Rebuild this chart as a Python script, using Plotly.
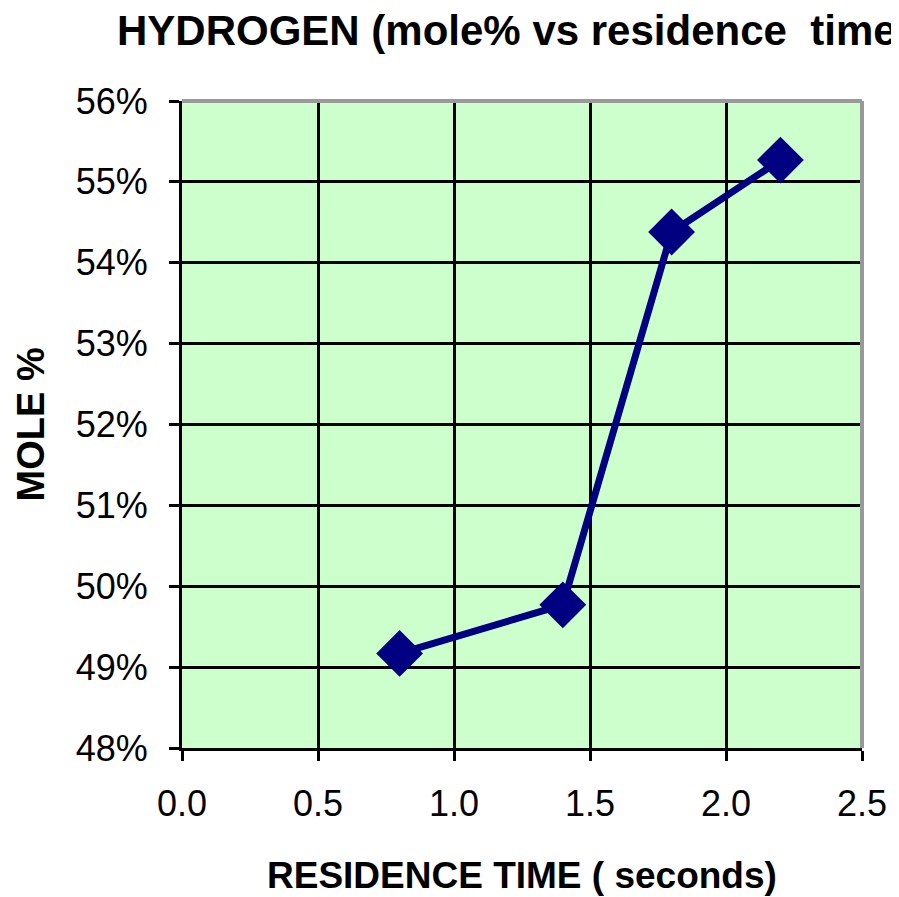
import plotly.graph_objects as go

residence_time = [0.8, 1.4, 1.8, 2.2]
mole_fraction = [0.4917, 0.4977, 0.5438, 0.5527]
x_ticks = [0.0, 0.5, 1.0, 1.5, 2.0, 2.5]
x_tick_labels = ["0.0", "0.5", "1.0", "1.5", "2.0", "2.5"]
y_ticks = [0.48, 0.49, 0.50, 0.51, 0.52, 0.53, 0.54, 0.55, 0.56]
y_tick_labels = ["48%", "49%", "50%", "51%", "52%", "53%", "54%", "55%", "56%"]

FONT = "Liberation Sans, Arial, sans-serif"
NAVY = "#000080"

# page body adds an 8px offset; figure is sized to fit the window
W, H = 891, 889

fig = go.Figure()
fig.add_trace(go.Scatter(
    x=residence_time, y=mole_fraction, mode="lines+markers",
    line=dict(color=NAVY, width=7),
    marker=dict(symbol="diamond", size=36, color=NAVY, line=dict(width=0)),
    showlegend=False, cliponaxis=False,
))

fig.update_layout(
    width=W, height=H,
    margin=dict(l=174, r=33, t=93, b=149),
    paper_bgcolor="white", plot_bgcolor="#CCFFCC",
    font=dict(family=FONT, color="black"),
    title=dict(text="<b>HYDROGEN\u00a0(mole% vs residence\u00a0\u00a0time)</b>",
               font=dict(family=FONT, size=42, color="black"),
               x=109/W, xanchor="left", xref="container",
               y=1-22/H, yanchor="middle", yref="container"),
    xaxis=dict(range=[0, 2.5], tickvals=x_ticks, ticktext=x_tick_labels,
               showgrid=True, gridcolor="black", gridwidth=3,
               showline=True, linecolor="black", linewidth=3,
               ticks="outside", ticklen=10, tickwidth=3, tickcolor="black",
               tickfont=dict(size=36, family=FONT), ticklabelstandoff=12,
               zeroline=False, fixedrange=True),
    yaxis=dict(range=[0.48, 0.56], tickvals=y_ticks, ticktext=y_tick_labels,
               showgrid=True, gridcolor="black", gridwidth=3,
               showline=True, linecolor="black", linewidth=3,
               ticks="outside", ticklen=10, tickwidth=3, tickcolor="black",
               tickfont=dict(size=36, family=FONT), ticklabelstandoff=14,
               zeroline=False, fixedrange=True),
    shapes=[
        dict(type="line", xref="paper", yref="paper", x0=0, x1=1, y0=1, y1=1,
             line=dict(color="#999999", width=4)),
        dict(type="line", xref="paper", yref="paper", x0=1, x1=1, y0=0, y1=1,
             line=dict(color="#999999", width=4)),
    ],
    annotations=[
        dict(text="<b>RESIDENCE TIME ( seconds)</b>", xref="paper", yref="paper",
             x=0.5, y=-127/647, xanchor="center", yanchor="middle",
             showarrow=False, font=dict(size=37, family=FONT)),
        dict(text="<b>MOLE %</b>", xref="paper", yref="paper",
             x=-152/684, y=0.5, xanchor="center", yanchor="middle",
             textangle=-90, showarrow=False, font=dict(size=38, family=FONT)),
    ],
)

fig.write_html("out.html")
